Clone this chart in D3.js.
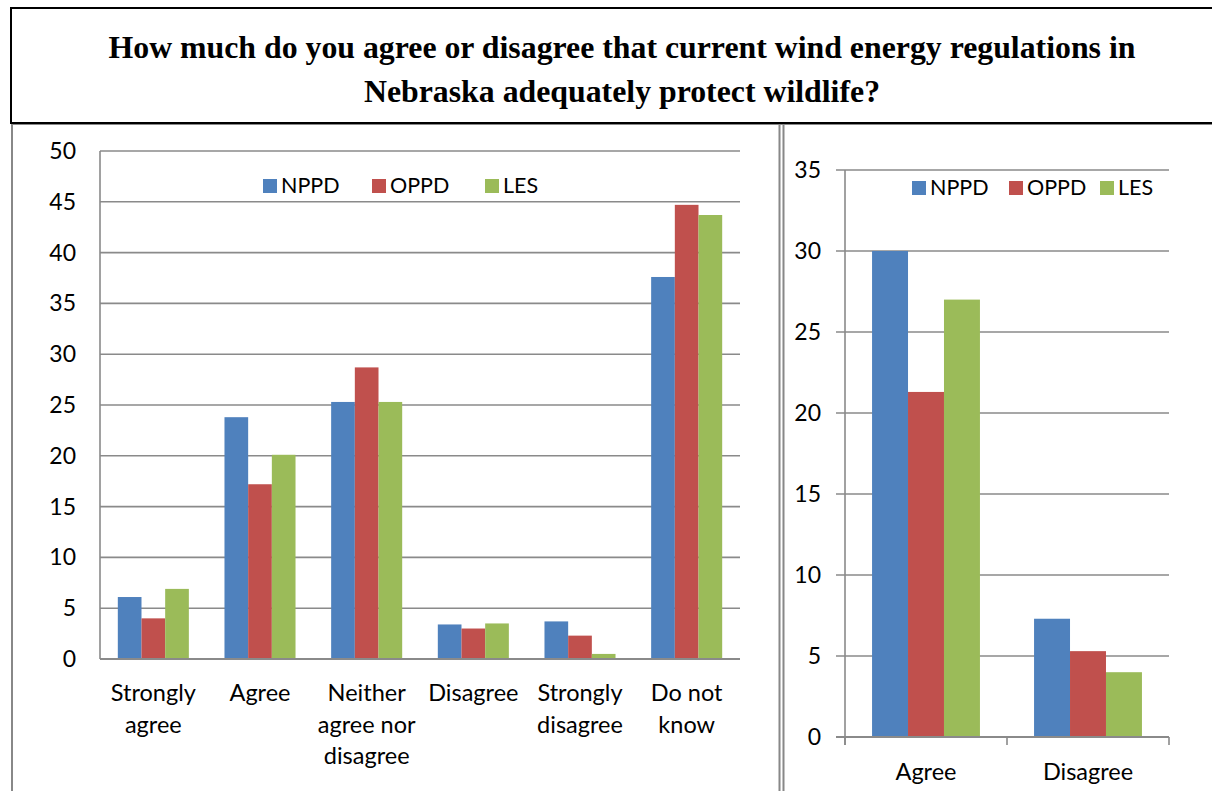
<!DOCTYPE html>
<html><head><meta charset="utf-8">
<script src="https://cdn.jsdelivr.net/npm/d3@7"></script>
<style>
html,body{margin:0;padding:0;background:#fff;}
svg{display:block;}
text{font-family:Lato,"Noto Sans",sans-serif;}
</style></head>
<body>
<svg id="c" width="1212" height="791"></svg>
<script>
const titleLines = ["How much do you agree or disagree that current wind energy regulations in", "Nebraska adequately protect wildlife?"];
const series = ["NPPD", "OPPD", "LES"];
const colors = ["#4F81BD", "#C0504D", "#9BBB59"];

const leftCategories = [["Strongly","agree"], ["Agree"], ["Neither","agree nor","disagree"], ["Disagree"], ["Strongly","disagree"], ["Do not","know"]];
const leftNPPD = [6.1, 23.8, 25.3, 3.4, 3.7, 37.6];
const leftOPPD = [4.0, 17.2, 28.7, 3.0, 2.3, 44.7];
const leftLES  = [6.9, 20.1, 25.3, 3.5, 0.5, 43.7];
const leftTicks = [0,5,10,15,20,25,30,35,40,45,50];

const rightCategories = [["Agree"], ["Disagree"]];
const rightNPPD = [30.0, 7.3];
const rightOPPD = [21.3, 5.3];
const rightLES  = [27.0, 4.0];
const rightTicks = [0,5,10,15,20,25,30,35];

const svg = d3.select("#c");

// title box
svg.append("rect").attr("x",11).attr("y",8).attr("width",1215).attr("height",115)
  .attr("fill","none").attr("stroke","#000").attr("stroke-width",2);
svg.selectAll("text.title").data(titleLines).enter().append("text")
  .attr("x",622).attr("y",(d,i)=>58+i*44).attr("text-anchor","middle")
  .style("font-family","'Liberation Serif','Times New Roman',serif")
  .style("font-weight","bold").style("font-size","31.8px").text(d=>d);

// panel borders
svg.append("line").attr("x1",12).attr("x2",12).attr("y1",124).attr("y2",791).attr("stroke","#888").attr("stroke-width",2);
svg.append("line").attr("x1",779.5).attr("x2",779.5).attr("y1",124).attr("y2",791).attr("stroke","#888").attr("stroke-width",2);
svg.append("line").attr("x1",783.5).attr("x2",783.5).attr("y1",124).attr("y2",791).attr("stroke","#888").attr("stroke-width",2);
svg.append("line").attr("x1",12).attr("x2",1212).attr("y1",124.5).attr("y2",124.5).attr("stroke","#888").attr("stroke-width",1);

function drawChart(opt){
  const g = svg.append("g");
  const x = d3.scaleBand().domain(d3.range(opt.cats.length)).range([opt.x0,opt.x1]).padding(0);
  const xs = d3.scaleBand().domain(series).range([x.bandwidth()*0.167, x.bandwidth()*0.833]).padding(0);
  const y = d3.scaleLinear().domain([0,opt.max]).range([opt.y0,opt.y1]);
  g.selectAll("line.grid").data(opt.ticks).enter().append("line")
    .attr("x1",opt.x0-opt.tickLen).attr("x2",opt.x1).attr("y1",d=>y(d)).attr("y2",d=>y(d))
    .attr("stroke","#8a8a8a").attr("stroke-width",1.6);
  g.selectAll("text.yl").data(opt.ticks).enter().append("text")
    .attr("x",opt.labelX).attr("y",d=>y(d)+8).attr("text-anchor","end")
    .style("font-size","23px").text(d=>d);
  const vals = opt.values;
  opt.cats.forEach((c,i)=>{
    g.selectAll(null).data(series).enter().append("rect")
      .attr("x",s=>x(i)+xs(s)).attr("width",xs.bandwidth())
      .attr("y",(s,k)=>y(vals[k][i])).attr("height",(s,k)=>y(0)-y(vals[k][i]))
      .attr("fill",(s,k)=>colors[k]);
  });
  g.append("line").attr("x1",opt.x0).attr("x2",opt.x0).attr("y1",opt.y1).attr("y2",opt.y0+opt.xTick)
    .attr("stroke","#8a8a8a").attr("stroke-width",1.6);
  g.append("line").attr("x1",opt.x0-opt.tickLen).attr("x2",opt.x1).attr("y1",opt.y0).attr("y2",opt.y0)
    .attr("stroke","#8a8a8a").attr("stroke-width",2);
  if(opt.xTick>0){
    g.selectAll("line.xt").data(d3.range(opt.cats.length+1)).enter().append("line")
      .attr("x1",d=>opt.x0+d*x.step()).attr("x2",d=>opt.x0+d*x.step())
      .attr("y1",opt.y0).attr("y2",opt.y0+opt.xTick).attr("stroke","#8a8a8a").attr("stroke-width",1.6);
  }
  opt.cats.forEach((c,i)=>{
    c.forEach((line,j)=>{
      g.append("text").attr("x",x(i)+x.bandwidth()/2).attr("y",opt.labelY+j*31.5)
        .attr("text-anchor","middle").style("font-size","23.5px").text(line);
    });
  });
  opt.legend.forEach((lx,k)=>{
    g.append("rect").attr("x",lx).attr("y",opt.legY-6).attr("width",14).attr("height",14).attr("fill",colors[k]);
    g.append("text").attr("x",lx+18).attr("y",opt.legY+8).style("font-size","21.5px").text(series[k]);
  });
}

drawChart({cats:leftCategories, values:[leftNPPD,leftOPPD,leftLES], ticks:leftTicks, max:50,
  x0:100, x1:740, y0:659, y1:151, tickLen:0, xTick:0, labelX:76, labelY:701,
  legend:[263,372,485], legY:185});
drawChart({cats:rightCategories, values:[rightNPPD,rightOPPD,rightLES], ticks:rightTicks, max:35,
  x0:845, x1:1169, y0:737, y1:170, tickLen:9, xTick:8, labelX:821, labelY:780,
  legend:[912,1009,1100], legY:187});
</script>
</body></html>
